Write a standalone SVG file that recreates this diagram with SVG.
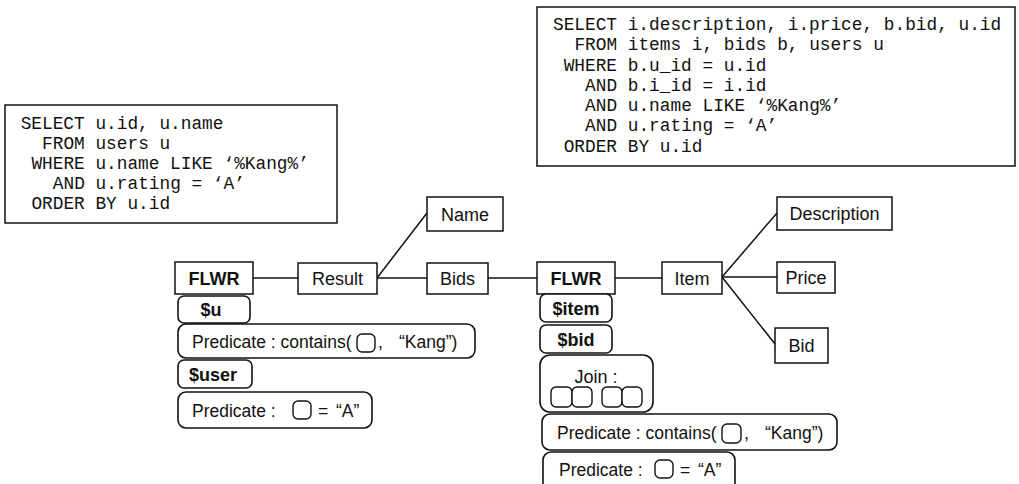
<svg xmlns="http://www.w3.org/2000/svg" width="1019" height="484" viewBox="0 0 1019 484">
<style>
.bg{fill:#fff}
.box{fill:#fff;stroke:#111;stroke-width:1.5}
.rbox{fill:#fff;stroke:#111;stroke-width:1.6}
.mini{fill:#fff;stroke:#111;stroke-width:1.4}
.sql{font-family:"Liberation Mono","Courier New",monospace;font-size:17.8px;fill:#111}
.t{font-family:"Liberation Sans",Arial,sans-serif;font-size:18px;fill:#111}
.p{font-size:17.5px}
.c{text-anchor:middle}
.b{font-weight:bold}
.conn line{stroke:#111;stroke-width:1.5}
</style>
<rect class="bg" x="0" y="0" width="1019" height="484"/>

<g id="sql-left">
<rect class="box" x="5" y="105" width="332" height="118"/>
<text class="sql" x="20.7" y="129">SELECT u.id, u.name</text>
<text class="sql" x="42.1" y="149">FROM users u</text>
<text class="sql" x="31.4" y="169">WHERE u.name LIKE ‘%Kang%’</text>
<text class="sql" x="52.8" y="189">AND u.rating = ‘A’</text>
<text class="sql" x="31.4" y="209">ORDER BY u.id</text>
</g>

<g id="sql-right">
<rect class="box" x="537" y="7" width="478" height="159"/>
<text class="sql" x="553" y="30">SELECT i.description, i.price, b.bid, u.id</text>
<text class="sql" x="574.4" y="50">FROM items i, bids b, users u</text>
<text class="sql" x="563.7" y="71">WHERE b.u_id = u.id</text>
<text class="sql" x="585.1" y="91">AND b.i_id = i.id</text>
<text class="sql" x="585.1" y="111">AND u.name LIKE ‘%Kang%’</text>
<text class="sql" x="585.1" y="131">AND u.rating = ‘A’</text>
<text class="sql" x="563.7" y="152">ORDER BY u.id</text>
</g>

<g id="connectors" class="conn">
<line x1="253" y1="278" x2="298" y2="278"/>
<line x1="377" y1="278" x2="427" y2="278"/>
<line x1="377" y1="278" x2="427" y2="213"/>
<line x1="488" y1="278" x2="537" y2="278"/>
<line x1="615" y1="278" x2="662" y2="278"/>
<line x1="722" y1="277" x2="777" y2="213"/>
<line x1="722" y1="277" x2="777" y2="277"/>
<line x1="722" y1="277" x2="775" y2="344"/>
</g>

<g id="flwr1">
<rect class="box" x="175" y="262" width="78" height="32"/>
<text class="t b c" x="214" y="284.5">FLWR</text>
</g>
<g id="result">
<rect class="box" x="298" y="263" width="79" height="31"/>
<text class="t c" x="337.5" y="285">Result</text>
</g>
<g id="name">
<rect class="box" x="427" y="197" width="76" height="34"/>
<text class="t c" x="465" y="220.5">Name</text>
</g>
<g id="bids">
<rect class="box" x="427" y="263" width="61" height="31"/>
<text class="t c" x="457.5" y="285">Bids</text>
</g>
<g id="flwr2">
<rect class="box" x="537" y="262" width="78" height="32"/>
<text class="t b c" x="576" y="284.5">FLWR</text>
</g>
<g id="item">
<rect class="box" x="662" y="262" width="60" height="32"/>
<text class="t c" x="692" y="284.5">Item</text>
</g>
<g id="description">
<rect class="box" x="777" y="197" width="115" height="33"/>
<text class="t c" x="834.5" y="220">Description</text>
</g>
<g id="price">
<rect class="box" x="777" y="262" width="58" height="31"/>
<text class="t c" x="806" y="284">Price</text>
</g>
<g id="bid">
<rect class="box" x="775" y="328" width="53" height="35"/>
<text class="t c" x="801.5" y="352">Bid</text>
</g>

<g id="var-u">
<rect class="rbox" x="178" y="296" width="72" height="27" rx="6"/>
<text class="t b c" x="211" y="316">$u</text>
</g>
<g id="pred-contains-1">
<rect class="rbox" x="178" y="324" width="297" height="34" rx="8"/>
<text class="t p" x="192" y="347.5">Predicate : contains(</text>
<rect class="mini" x="357" y="334" width="18" height="18" rx="5"/>
<text class="t p" x="378" y="347.5">,</text>
<text class="t p" x="399" y="347.5">“Kang”)</text>
</g>
<g id="var-user">
<rect class="rbox" x="178" y="360" width="74" height="28" rx="6"/>
<text class="t b c" x="213" y="380.5">$user</text>
</g>
<g id="pred-a-1">
<rect class="rbox" x="178" y="392" width="194" height="36" rx="8"/>
<text class="t p" x="192" y="416.5">Predicate :</text>
<rect class="mini" x="293" y="401" width="18" height="18" rx="5"/>
<text class="t p" x="318" y="416.5">=</text>
<text class="t p" x="336" y="416.5">“A”</text>
</g>

<g id="var-item">
<rect class="rbox" x="540" y="294" width="72" height="28" rx="6"/>
<text class="t b c" x="576" y="314.5">$item</text>
</g>
<g id="var-bid">
<rect class="rbox" x="540" y="325" width="72" height="28" rx="6"/>
<text class="t b c" x="576" y="345.5">$bid</text>
</g>
<g id="join">
<rect class="rbox" x="540" y="355" width="113" height="57" rx="10"/>
<text class="t c" x="596" y="383">Join :</text>
<rect class="mini" x="551" y="387" width="21" height="20" rx="5"/>
<rect class="mini" x="572" y="387" width="20" height="20" rx="5"/>
<rect class="mini" x="602" y="387" width="20" height="20" rx="5"/>
<rect class="mini" x="622" y="387" width="20" height="20" rx="5"/>
</g>
<g id="pred-contains-2">
<rect class="rbox" x="542" y="414" width="295" height="36" rx="8"/>
<text class="t p" x="557" y="438.5">Predicate : contains(</text>
<rect class="mini" x="722" y="424" width="19" height="19" rx="5"/>
<text class="t p" x="744" y="438.5">,</text>
<text class="t p" x="765" y="438.5">“Kang”)</text>
</g>
<g id="pred-a-2">
<rect class="rbox" x="543" y="452" width="192" height="40" rx="8"/>
<text class="t p" x="559" y="476">Predicate :</text>
<rect class="mini" x="655" y="460" width="18" height="18" rx="5"/>
<text class="t p" x="680" y="476">=</text>
<text class="t p" x="698" y="476">“A”</text>
</g>
</svg>
